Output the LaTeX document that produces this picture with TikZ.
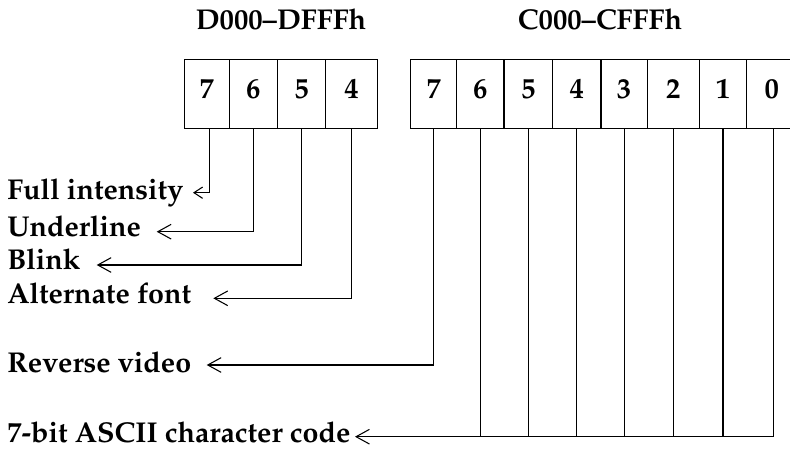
\documentclass[tikz,border=0pt]{standalone}
\usepackage[T1]{fontenc}
\usepackage{mathpazo}
\usetikzlibrary{arrows.meta}

% one bit of a register: name, left edge, right edge, digit (pixel units)
\newcommand\bitcell[4]{%
  \node[cell, minimum width={(#3-#2)*0.75pt}] (#1) at ({(#2+#3)/2},93.9) {#4};}

\begin{document}
\begin{tikzpicture}[x=0.75pt, y=-0.75pt,
    every node/.style={font=\fontsize{21.5}{25}\selectfont\bfseries},
    cell/.style={draw, line width=1pt, minimum height={68.8*0.75pt},
                 inner sep=0pt, text depth=7pt, anchor=center},
    title/.style={anchor=base},
    label/.style={anchor=base west, inner sep=0pt},
    conn/.style={line width=0.8pt},
    tip/.style={conn, -{Straight Barb[length=10pt, width=11pt, line width=0.8pt]}},
    smalltip/.style={conn, -{Straight Barb[length=6.5pt, width=8.5pt, line width=0.8pt]}}]
  \useasboundingbox (0,0) rectangle (790,449);
  \clip (0,0) rectangle (790,449);

  % register headings
  \node[title] (dtitle) at (281,29.3) {D000--DFFFh};
  \node[title] (ctitle) at (600,29.3) {C000--CFFFh};

  % attribute register, bits 7..4
  \bitcell{d7}{184.5}{229.3}{7}
  \bitcell{d6}{229.3}{277.3}{6}
  \bitcell{d5}{277.3}{325.7}{5}
  \bitcell{d4}{325.7}{377.3}{4}

  % character register, bits 7..0
  \bitcell{c7}{410.7}{456.7}{7}
  \bitcell{c6}{456.7}{504}{6}
  \bitcell{c5}{504}{552.7}{5}
  \bitcell{c4}{552.7}{601}{4}
  \bitcell{c3}{601}{647.3}{3}
  \bitcell{c2}{647.3}{699.3}{2}
  \bitcell{c1}{699.3}{746.7}{1}
  \bitcell{c0}{746.7}{797}{0}

  % meanings of the bits
  \node[label] (full)  at (7,199.5) {Full intensity};
  \node[label] (under) at (7,236.7) {Underline};
  \node[label] (blink) at (7,270)   {Blink};
  \node[label] (alt)   at (7,303.3) {Alternate font};
  \node[label] (rev)   at (7,372.5) {Reverse video};
  \node[label] (ascii) at (7,442.5) {7-bit ASCII character code};

  % arrow tips just right of each label
  \coordinate (tfull)  at (193,192.7);
  \coordinate (tunder) at (156.7,231.7);
  \coordinate (tblink) at (96.7,265);
  \coordinate (talt)   at (213.3,298.3);
  \coordinate (trev)   at (206.7,365);
  \coordinate (tascii) at (355,436.7);

  % connectors
  \draw[smalltip] ([xshift=2pt]d7.south) |- (tfull);
  \draw[tip] (d6.south) |- (tunder);
  \draw[tip] (d5.south) |- (tblink);
  \draw[tip] (d4.south) |- (talt);
  \draw[tip] (c7.south) |- (trev);
  \draw[tip] ([xshift=1.5pt]c0.south) |- (tascii);
  \foreach \b in {c6,c5,c4,c3,c2,c1}
    \draw[conn] (\b.south) -- (\b.south |- tascii);
\end{tikzpicture}
\end{document}
